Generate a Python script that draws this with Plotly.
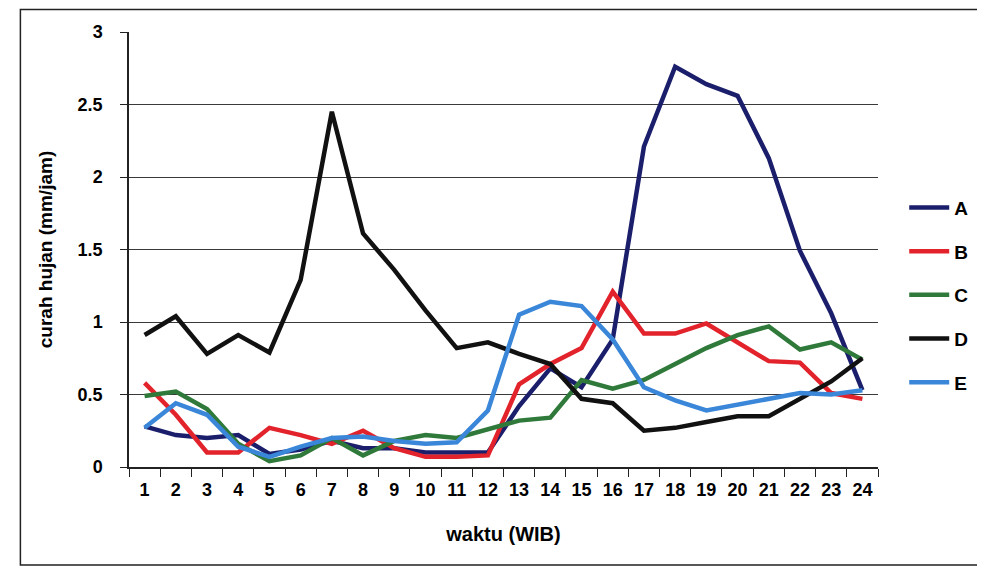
import plotly.graph_objects as go

hours = [str(h) for h in range(1, 25)]

series_A = [0.28, 0.22, 0.20, 0.22, 0.09, 0.12, 0.18, 0.13, 0.13, 0.10, 0.10, 0.10,
            0.42, 0.68, 0.55, 0.88, 2.21, 2.76, 2.64, 2.56, 2.13, 1.49, 1.06, 0.53]
series_B = [0.58, 0.36, 0.10, 0.10, 0.27, 0.22, 0.16, 0.25, 0.13, 0.07, 0.07, 0.08,
            0.57, 0.71, 0.82, 1.21, 0.92, 0.92, 0.99, 0.86, 0.73, 0.72, 0.51, 0.47]
series_C = [0.49, 0.52, 0.40, 0.16, 0.04, 0.08, 0.20, 0.08, 0.18, 0.22, 0.20, 0.26,
            0.32, 0.34, 0.60, 0.54, 0.60, 0.71, 0.82, 0.91, 0.97, 0.81, 0.86, 0.74]
series_D = [0.91, 1.04, 0.78, 0.91, 0.79, 1.29, 2.45, 1.61, 1.36, 1.08, 0.82, 0.86,
            0.78, 0.71, 0.47, 0.44, 0.25, 0.27, 0.31, 0.35, 0.35, 0.47, 0.59, 0.75]
series_E = [0.27, 0.44, 0.36, 0.14, 0.07, 0.14, 0.20, 0.21, 0.18, 0.16, 0.17, 0.39,
            1.05, 1.14, 1.11, 0.88, 0.55, 0.46, 0.39, 0.43, 0.47, 0.51, 0.50, 0.53]

names = ["A", "B", "C", "D", "E"]
values = [series_A, series_B, series_C, series_D, series_E]
colors = ["#1b1f6b", "#e3232c", "#2f7a3a", "#111111", "#3a86d8"]

y_ticks = [0, 0.5, 1, 1.5, 2, 2.5, 3]
y_tick_text = ["0", "0.5", "1", "1.5", "2", "2.5", "3"]

FONT = "Liberation Sans, Arial, sans-serif"

fig = go.Figure()
for n, v, c in zip(names, values, colors):
    fig.add_trace(go.Scatter(
        x=hours, y=v, name=n, mode="lines", legendgroup=n,
        line=dict(color=c, width=4.5),
    ))

fig.update_layout(
    width=977, height=563,
    margin=dict(l=121, r=105, t=24, b=104),
    paper_bgcolor="white", plot_bgcolor="white",
    font=dict(family=FONT, color="black", size=16),
    showlegend=True,
    legend=dict(
        x=1.035, y=0.64, xanchor="left", yanchor="top",
        font=dict(family=FONT, size=19, color="black", weight="bold"),
        tracegroupgap=16, itemwidth=40, bgcolor="rgba(0,0,0,0)",
    ),
    xaxis=dict(
        type="category", range=[-0.5, 23.5],
        showline=True, linecolor="#222", linewidth=1.5,
        ticks="outside", tickson="boundaries", ticklen=8, tickcolor="#222",
        showgrid=False, ticklabelstandoff=6,
        tickfont=dict(family=FONT, size=18, color="black", weight="bold"),
        title=dict(text="<b>waktu (WIB)</b>", font=dict(family=FONT, size=20, color="black"),
                   standoff=28),
    ),
    yaxis=dict(
        range=[0, 3], tickvals=y_ticks, ticktext=y_tick_text,
        showline=True, linecolor="#222", linewidth=1.5,
        showgrid=True, gridcolor="#3a3a3a", gridwidth=1.2,
        zeroline=False, ticks="outside", ticklen=7, tickcolor="#222",
        ticklabelstandoff=14,
        tickfont=dict(family=FONT, size=18, color="black", weight="bold"),
        title=dict(text="<b>curah hujan (mm/jam)</b>",
                   font=dict(family=FONT, size=19, color="black"), standoff=20),
    ),
    shapes=[dict(type="rect", xref="paper", yref="paper",
                 x0=-0.145, x1=1.143, y0=-0.225, y1=1.052,
                 line=dict(color="#222", width=1.5), layer="below")],
)

fig.write_html("out.html")
